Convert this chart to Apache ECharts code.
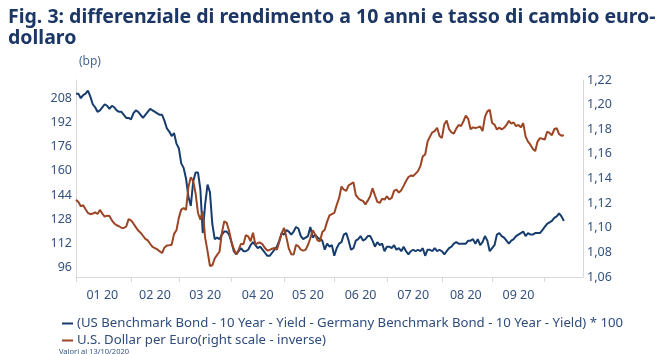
<!DOCTYPE html>
<html>
<head>
<meta charset="utf-8">
<script src="https://cdn.jsdelivr.net/npm/echarts@6/dist/echarts.min.js"></script>
<style>
  html, body { margin: 0; padding: 0; background: #fff; }
  #chart { width: 665px; height: 354px; }
</style>
</head>
<body>
<div id="chart"></div>
<script>
// differenziale US-Germania 10 anni (bp), un valore per giorno lavorativo dal 01/01/2020
const spread = [211,211,208,210,211,213,209,204,202,199,
  200,202,204,203,201,203,202,200,199,199,
  197,195,195,194,198,200,199,197,195,197,
  199,201,200,199,198,197,197,193,188,186,
  183,185,178,175,165,162,155,143,137,153,
  159,159,148,119,138,151,146,125,115,116,
  115,118,120,120,118,113,107,105,107,109,
  107,107,108,111,113,111,109,110,108,106,
  104,104,106,108,110,114,119,118,121,120,
  118,120,123,122,117,115,116,117,123,116,
  118,116,115,114,108,112,110,111,104,109,
  112,113,118,119,114,108,109,114,115,117,
  114,115,117,117,114,110,113,111,112,107,
  110,110,109,111,108,109,107,110,107,105,
  107,108,107,108,107,109,104,108,108,107,
  109,107,108,107,105,107,109,110,112,113,
  112,112,112,112,114,114,115,112,115,111,
  113,117,114,107,109,111,118,119,117,116,
  114,112,114,115,117,118,119,120,117,119,
  118,118,119,119,119,121,123,125,126,127,
  129,130,132,130,127]

// cambio EUR/USD (scala destra)
const eurusd = [1.1228,1.1210,1.1175,1.1183,1.1150,1.1120,1.1110,1.1115,1.1125,1.1112,
  1.1145,1.1115,1.1090,1.1098,1.1095,1.1060,1.1035,1.1020,1.1012,1.1000,
  1.0998,1.1010,1.1070,1.1060,1.1035,1.1005,1.0978,1.0960,1.0935,1.0910,
  1.0898,1.0870,1.0845,1.0835,1.0825,1.0808,1.0795,1.0840,1.0855,1.0858,
  1.0862,1.0950,1.0980,1.1080,1.1147,1.1160,1.1145,1.1330,1.1410,1.1380,
  1.1280,1.1120,1.1066,1.1134,1.0920,1.0810,1.0690,1.0695,1.0750,1.0780,
  1.0805,1.0960,1.1053,1.1040,1.0975,1.0885,1.0825,1.0785,1.0820,1.0870,
  1.0865,1.0940,1.0930,1.0890,1.0960,1.0865,1.0876,1.0880,1.0865,1.0835,
  1.0815,1.0820,1.0830,1.0836,1.0822,1.0885,1.0955,1.0998,1.0920,1.0830,
  1.0785,1.0782,1.0860,1.0850,1.0822,1.0814,1.0820,1.0860,1.0915,1.0980,
  1.0945,1.0898,1.0890,1.0965,1.0984,1.1050,1.1100,1.1110,1.1120,1.1185,
  1.1240,1.1335,1.1310,1.1300,1.1345,1.1356,1.1370,1.1265,1.1240,1.1225,
  1.1218,1.1190,1.1220,1.1256,1.1320,1.1264,1.1210,1.1202,1.1235,1.1228,
  1.1255,1.1230,1.1242,1.1300,1.1310,1.1285,1.1305,1.1340,1.1380,1.1412,
  1.1424,1.1420,1.1440,1.1460,1.1500,1.1580,1.1595,1.1700,1.1740,1.1775,
  1.1785,1.1812,1.1745,1.1730,1.1840,1.1870,1.1800,1.1775,1.1765,1.1805,
  1.1835,1.1825,1.1865,1.1910,1.1885,1.1800,1.1815,1.1810,1.1815,1.1822,
  1.1785,1.1900,1.1945,1.1958,1.1851,1.1838,1.1798,1.1815,1.1798,1.1812,
  1.1835,1.1868,1.1845,1.1855,1.1825,1.1835,1.1815,1.1850,1.1740,1.1700,
  1.1675,1.1642,1.1622,1.1700,1.1728,1.1723,1.1716,1.1780,1.1770,1.1752,
  1.1800,1.1810,1.1760,1.1748,1.1752]

const seriesNames = [
  '(US Benchmark Bond - 10 Year - Yield - Germany Benchmark Bond - 10 Year - Yield) * 100',
  'U.S. Dollar per Euro(right scale - inverse)'
]
const labeledMonths = ['2020-01','2020-02','2020-03','2020-04','2020-05','2020-06','2020-07','2020-08','2020-09']

// giorni lavorativi, l'asse arriva fino al 23/10
const dates = []
for (let d = new Date(Date.UTC(2020, 0, 1)); d <= new Date(Date.UTC(2020, 9, 23)); d.setUTCDate(d.getUTCDate() + 1)) {
  const wd = d.getUTCDay()
  if (wd !== 0 && wd !== 6) dates.push(d.toISOString().slice(0, 10))
}

// inizio e metà di ogni mese (tick al primo giorno, etichetta al centro)
const monthFirst = {}, monthCount = {}
dates.forEach((s, i) => {
  const m = s.slice(0, 7)
  if (monthFirst[m] === undefined) { monthFirst[m] = i; monthCount[m] = 0 }
  monthCount[m]++
})
const tickIdx = new Set(Object.values(monthFirst))
const labelIdx = new Set(labeledMonths.map(m => monthFirst[m] + Math.floor(monthCount[m] / 2)))

const axisColor = '#d9d9d9'
const textColor = '#34527f'
const font = 'Noto Sans'

const chart = echarts.init(document.getElementById('chart'), null, { renderer: 'canvas' })
chart.setOption({
  animation: false,
  textStyle: { fontFamily: font },
  title: [
    {
      text: 'Fig. 3: differenziale di rendimento a 10 anni e tasso di cambio euro-\ndollaro',
      left: 3, top: 2,
      textStyle: { fontSize: 19.5, fontWeight: 'bold', color: '#1c3766', lineHeight: 21, fontFamily: font }
    },
    {
      text: 'Valori al 13/10/2020',
      left: 54, top: 343,
      textStyle: { fontSize: 7.5, fontWeight: 'normal', color: '#34527f', fontFamily: font }
    }
  ],
  legend: {
    orient: 'vertical',
    left: 57, top: 312,
    itemGap: 4,
    itemWidth: 11, itemHeight: 2,
    icon: 'rect',
    textStyle: { fontSize: 13.2, color: '#2e4c7c', fontFamily: font, padding: [0, 0, 0, -1] },
    data: seriesNames
  },
  grid: { left: 76, right: 82, top: 80, bottom: 77, containLabel: false },
  xAxis: {
    type: 'category',
    data: dates,
    boundaryGap: false,
    axisLine: { lineStyle: { color: axisColor, width: 1 } },
    axisTick: {
      show: true, length: 5, lineStyle: { color: axisColor },
      interval: (i) => tickIdx.has(i)
    },
    axisLabel: {
      color: textColor, fontSize: 12.5, margin: 12,
      interval: (i) => labelIdx.has(i),
      formatter: (v) => v.slice(5, 7) + ' ' + v.slice(2, 4)
    },
    splitLine: { show: false }
  },
  yAxis: [
    {
      type: 'value',
      // passo 2 così min=90 è multiplo; si etichettano solo i multipli di 16
      min: 90, max: 220, interval: 2,
      name: '(bp)',
      nameLocation: 'end',
      nameGap: 12,
      nameTextStyle: { color: '#4a6890', fontSize: 12, align: 'left', padding: [0, 0, 0, 3] },
      axisLine: { show: true, lineStyle: { color: axisColor } },
      axisTick: { show: false },
      splitLine: { show: false },
      axisLabel: {
        color: textColor, fontSize: 12.5, margin: 4,
        formatter: (v) => (Math.round(v) % 16 === 0 ? String(Math.round(v)) : '')
      }
    },
    {
      type: 'value',
      min: 1.06, max: 1.22, interval: 0.02,
      position: 'right',
      axisLine: { show: true, lineStyle: { color: axisColor } },
      axisTick: { show: false },
      splitLine: { show: false },
      axisLabel: {
        color: textColor, fontSize: 12.5, margin: 4,
        formatter: (v) => v.toFixed(2).replace('.', ',')
      }
    }
  ],
  series: [
    {
      name: seriesNames[0],
      type: 'line',
      yAxisIndex: 0,
      data: spread,
      showSymbol: false,
      color: '#163d6e',
      lineStyle: { width: 2, color: '#163d6e' }
    },
    {
      name: seriesNames[1],
      type: 'line',
      yAxisIndex: 1,
      data: eurusd,
      showSymbol: false,
      color: '#9c4524',
      lineStyle: { width: 2, color: '#9c4524' }
    }
  ]
})
</script>
</body>
</html>
